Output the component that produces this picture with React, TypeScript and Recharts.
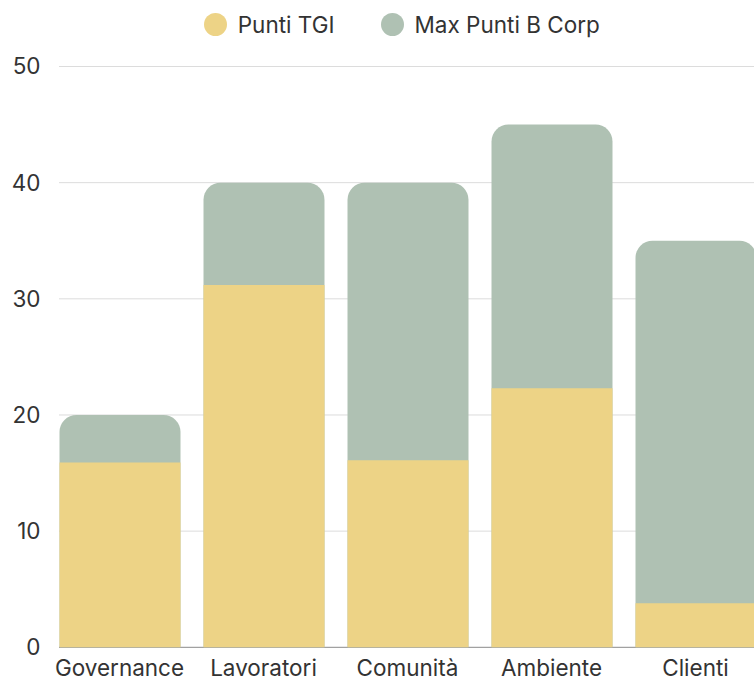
import { BarChart, Bar, XAxis, YAxis, CartesianGrid, Legend } from 'recharts'

const categories = ['Governance', 'Lavoratori', 'Comunità', 'Ambiente', 'Clienti']
const puntiTGI = [15.9, 31.2, 16.1, 22.3, 3.8]
const maxPuntiBCorp = [20, 40, 40, 45, 35]
const yTicks = [0, 10, 20, 30, 40, 50]

const YELLOW = '#EDD386'
const GREEN = '#AFC1B3'
const FONT = 'Inter, "Noto Sans", sans-serif'
const FS = 22.5

const data = categories.map((name, i) => ({
  name,
  tgi: puntiTGI[i],
  max: maxPuntiBCorp[i],
}))

const legendItems = [
  { label: 'Punti TGI', color: YELLOW },
  { label: 'Max Punti B Corp', color: GREEN },
]

function LegendBox() {
  return (
    <div
      style={{
        height: 66.5,
        display: 'flex',
        justifyContent: 'center',
        alignItems: 'flex-start',
        paddingTop: 12,
        paddingLeft: 36,
        boxSizing: 'border-box',
        fontFamily: FONT,
        fontSize: FS,
        color: '#333',
      }}
    >
      {legendItems.map((it, i) => (
        <div key={it.label} style={{ display: 'flex', alignItems: 'center', marginLeft: i ? 46 : 0, height: 25 }}>
          <span
            style={{ width: 23, height: 23, borderRadius: '50%', background: it.color, marginRight: 11, display: 'inline-block' }}
          />
          <span style={{ lineHeight: '25px' }}>{it.label}</span>
        </div>
      ))}
    </div>
  )
}

function gridLine(p: any) {
  return (
    <line
      key={`g-${p.index}`}
      x1={p.x1}
      y1={p.y1}
      x2={p.x2}
      y2={p.y2}
      stroke={p.index === 0 ? '#8a8a8a' : '#dcdcdc'}
      strokeWidth={1}
    />
  )
}

export default function App() {
  return (
    <div style={{ position: 'fixed', left: 0, top: 0, width: 754, height: 678, overflow: 'hidden', background: '#fff' }}>
      <BarChart width={770} height={678} data={data} margin={{ top: 0, right: 2.5, left: 0, bottom: 0 }}>
        <CartesianGrid vertical={false} x={59} width={720} horizontal={gridLine} />
        <Legend verticalAlign="top" content={() => <LegendBox />} />
        <XAxis
          xAxisId="main"
          dataKey="name"
          height={30.7}
          axisLine={false}
          tickLine={false}
          tickSize={6}
          tickMargin={7}
          interval={0}
          tick={{ fontFamily: FONT, fontSize: FS, fill: '#333' }}
        />
        <XAxis xAxisId="over" dataKey="name" hide />
        <YAxis
          width={47.5}
          domain={[0, 50]}
          ticks={yTicks}
          axisLine={false}
          tickLine={false}
          tickMargin={1}
          tick={{ fontFamily: FONT, fontSize: FS, fill: '#333' }}
        />
        <Bar xAxisId="main" dataKey="max" name="Max Punti B Corp" fill={GREEN} barSize={121} radius={[17, 17, 0, 0]} isAnimationActive={false} />
        <Bar xAxisId="over" dataKey="tgi" name="Punti TGI" fill={YELLOW} barSize={121} isAnimationActive={false} />
      </BarChart>
    </div>
  )
}
